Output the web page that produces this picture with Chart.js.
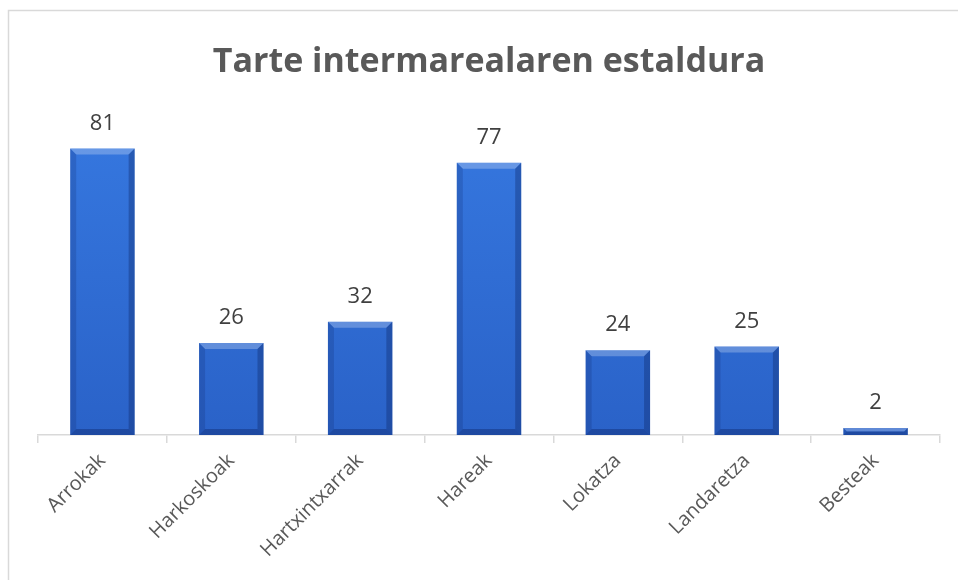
<!DOCTYPE html>
<html>
<head>
<meta charset="utf-8">
<script src="https://cdn.jsdelivr.net/npm/chart.js@4"></script>
<style>
  html, body { margin: 0; padding: 0; background: #fff; }
  #wrap { width: 958px; height: 580px; position: relative; }
</style>
</head>
<body>
<div id="wrap"><canvas id="chart"></canvas></div>
<script>
// datuak
const categories = ['Arrokak', 'Harkoskoak', 'Hartxintxarrak', 'Hareak', 'Lokatza', 'Landaretza', 'Besteak'];
const values = [81, 26, 32, 77, 24, 25, 2];
const chartTitle = 'Tarte intermarealaren estaldura';

const FONT = "'Open Sans', 'DejaVu Sans', sans-serif";

// marko grisa eta atzealde zuria
const framePlugin = {
    id: 'frame',
    beforeDraw(chart) {
        const c = chart.ctx;
        c.save();
        c.fillStyle = '#fff';
        c.fillRect(0, 0, chart.width, chart.height);
        c.strokeStyle = '#d9d9d9';
        c.lineWidth = 1.5;
        c.beginPath();
        c.moveTo(8.5, chart.height);
        c.lineTo(8.5, 10.5);
        c.lineTo(chart.width, 10.5);
        c.stroke();
        c.restore();
    }
};

// barren bisela eta balio etiketak
const bevelPlugin = {
    id: 'bevel',
    afterDatasetsDraw(chart) {
        const c = chart.ctx;
        const meta = chart.getDatasetMeta(0);
        c.save();
        meta.data.forEach((bar, i) => {
            const x0 = bar.x - bar.width / 2, x1 = bar.x + bar.width / 2;
            const y0 = bar.y, y1 = bar.base;
            const h = y1 - y0;
            const b = Math.min(6, h / 2);
            const poly = (pts, fill) => {
                c.beginPath();
                c.moveTo(pts[0][0], pts[0][1]);
                pts.slice(1).forEach(p => c.lineTo(p[0], p[1]));
                c.closePath();
                c.fillStyle = fill;
                c.fill();
            };
            poly([[x0, y0], [x1, y0], [x1 - b, y0 + b], [x0 + b, y0 + b]], 'rgba(255,255,255,0.25)');
            poly([[x0, y0], [x0 + b, y0 + b], [x0 + b, y1 - b], [x0, y1]], 'rgba(10,30,90,0.18)');
            poly([[x1, y0], [x1, y1], [x1 - b, y1 - b], [x1 - b, y0 + b]], 'rgba(10,30,90,0.32)');
            poly([[x0, y1], [x0 + b, y1 - b], [x1 - b, y1 - b], [x1, y1]], 'rgba(10,30,90,0.35)');

            c.fillStyle = '#404040';
            c.font = '22px ' + FONT;
            c.textAlign = 'center';
            c.textBaseline = 'middle';
            c.fillText(values[i], bar.x, y0 - 25);
        });
        c.restore();
    }
};

const ctx = document.getElementById('chart').getContext('2d');

new Chart(ctx, {
    type: 'bar',
    data: {
        labels: categories,
        datasets: [{
            data: values,
            backgroundColor: function(context) {
                const area = context.chart.chartArea;
                if (!area) return '#2f6fd6';
                const g = context.chart.ctx.createLinearGradient(0, area.top, 0, area.bottom);
                g.addColorStop(0, '#3678e0');
                g.addColorStop(1, '#2a62c8');
                return g;
            },
            borderWidth: 0,
            barPercentage: 0.5,
            categoryPercentage: 1
        }]
    },
    options: {
        responsive: true,
        maintainAspectRatio: false,
        animation: false,
        layout: {
            padding: { left: 38, right: 18, top: 0, bottom: 0 }
        },
        plugins: {
            legend: { display: false },
            tooltip: { enabled: false },
            title: {
                display: true,
                text: chartTitle,
                color: '#595959',
                font: { family: FONT, size: 34, weight: 'bold' },
                padding: { top: 42, bottom: 34 }
            }
        },
        scales: {
            y: {
                display: false,
                min: 0,
                max: 90
            },
            x: {
                afterFit: function(scale) { scale.height = 145; },
                border: { display: true, color: '#d9d9d9', width: 1.5 },
                grid: {
                    display: true,
                    offset: true,
                    drawOnChartArea: false,
                    drawTicks: true,
                    tickLength: 8,
                    color: '#d9d9d9',
                    lineWidth: 1.5
                },
                ticks: {
                    minRotation: 45,
                    maxRotation: 45,
                    color: '#595959',
                    padding: 6,
                    font: { family: FONT, size: 20 }
                }
            }
        }
    },
    plugins: [framePlugin, bevelPlugin]
});
</script>
</body>
</html>
